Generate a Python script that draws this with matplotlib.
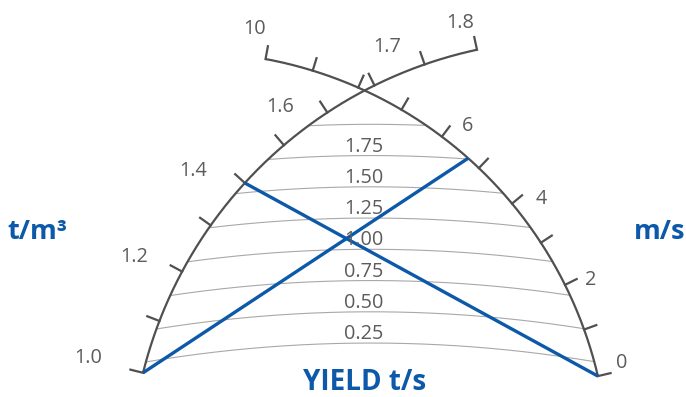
import numpy as np
import matplotlib
matplotlib.use("Agg")
import matplotlib.pyplot as plt

# ---------------- data ----------------
density_ticks = [1.0, 1.1, 1.2, 1.3, 1.4, 1.5, 1.6, 1.65, 1.7, 1.8]
density_labels = ["1.0", "", "1.2", "", "1.4", "", "1.6", "", "1.7", "1.8"]
velocity_ticks = [0, 1, 2, 3, 4, 5, 6, 7, 8, 9, 10]
velocity_labels = ["0", "", "2", "", "4", "", "6", "", "", "", "10"]
yield_levels = [0.25, 0.50, 0.75, 1.00, 1.25, 1.50, 1.75, 2.00]
yield_labels = ["0.25", "0.50", "0.75", "1.00", "1.25", "1.50", "1.75", ""]
# reading lines: (density, velocity)
reading_density = [1.0, 1.4]
reading_velocity = [5.3, 0.0]
density_title = "t/m³"
velocity_title = "m/s"
yield_title = "YIELD t/s"

# ---------------- layout (pixel space) ----------------
W, H = 686, 397
L_C, L_R = (569.0, 479.0), 439.0          # density arc circle
L_A0, L_A1 = 166.0, 102.1                  # angles of first/last density tick
R_C, R_R = (189.0, 472.0), 420.0          # velocity arc circle
R_A0, R_STEP = 13.2, 6.63                  # angle at 0, degrees per unit
Y_BASE, Y_STEP, Y_RAD, Y_CX = 374.3, 125.0, 1350.0, 371.0
TICK_LEN = 13
left_label_off = {"1.0": (-55, -15), "1.2": (-48, -14.5), "1.4": (-52, -12),
                  "1.6": (-47, -5.5), "1.7": (-37, -17), "1.8": (-17, -27)}
right_label_off = {"0": (24, -13), "2": (25.5, -5), "4": (29.5, -5),
                   "6": (26, -10.5), "10": (-10.5, -30)}

ARC_COL = "#505050"
TXT_COL = "#5c5c5c"
GRID_COL = "#a8a8a8"
BLUE = "#0b59a8"
FONT = "Open Sans"
LBL_FS = 14.3

def dens_angle(v):
    idx = np.interp(v, density_ticks, np.arange(len(density_ticks)))
    return L_A0 + (L_A1 - L_A0) * idx / (len(density_ticks) - 1)

def vel_angle(v):
    return R_A0 + R_STEP * v

def pt(center, r, ang):
    a = np.radians(ang)
    return center[0] + r * np.cos(a), center[1] - r * np.sin(a)

def normal(ang):
    a = np.radians(ang)
    return np.cos(a), -np.sin(a)

fig = plt.figure(figsize=(W / 100, H / 100), dpi=100)
ax = fig.add_axes([0, 0, 1, 1])
ax.set_xlim(0, W)
ax.set_ylim(H, 0)
ax.axis("off")

# yield curves, clipped to the lens between both arcs
xs = np.linspace(100, 650, 3000)
for yv, lab in zip(yield_levels, yield_labels):
    peak = Y_BASE - Y_STEP * yv
    cy = peak + Y_RAD
    ys = cy - np.sqrt(Y_RAD ** 2 - (xs - Y_CX) ** 2)
    inside = ((xs - L_C[0]) ** 2 + (ys - L_C[1]) ** 2 < L_R ** 2) & \
             ((xs - R_C[0]) ** 2 + (ys - R_C[1]) ** 2 < R_R ** 2)
    ax.plot(xs[inside], ys[inside], color=GRID_COL, lw=0.8, zorder=1)
    if lab:
        ax.text(364, peak - 4, lab, ha="center", va="baseline", fontsize=LBL_FS,
                color=TXT_COL, family=FONT, zorder=5)

# density arc
angs = np.linspace(L_A0, L_A1, 300)
px, py = pt(L_C, L_R, angs)
ax.plot(px, py, color=ARC_COL, lw=1.6, zorder=2, solid_capstyle="butt")
for v, lab in zip(density_ticks, density_labels):
    a = dens_angle(v)
    x0, y0 = pt(L_C, L_R, a)
    nx, ny = normal(a)
    ax.plot([x0, x0 + nx * TICK_LEN], [y0, y0 + ny * TICK_LEN],
            color=ARC_COL, lw=1.6, zorder=2)
    if lab:
        dx, dy = left_label_off[lab]
        ax.text(x0 + dx, y0 + dy, lab, ha="center", va="center", fontsize=LBL_FS,
                color=TXT_COL, family=FONT, zorder=5)

# velocity arc
angs = np.linspace(vel_angle(velocity_ticks[0]), vel_angle(velocity_ticks[-1]), 300)
px, py = pt(R_C, R_R, angs)
ax.plot(px, py, color=ARC_COL, lw=1.6, zorder=2, solid_capstyle="butt")
for v, lab in zip(velocity_ticks, velocity_labels):
    a = vel_angle(v)
    x0, y0 = pt(R_C, R_R, a)
    nx, ny = normal(a)
    ax.plot([x0, x0 + nx * TICK_LEN], [y0, y0 + ny * TICK_LEN],
            color=ARC_COL, lw=1.6, zorder=2)
    if lab:
        dx, dy = right_label_off[lab]
        ax.text(x0 + dx, y0 + dy, lab, ha="center", va="center", fontsize=LBL_FS,
                color=TXT_COL, family=FONT, zorder=5)

# reading lines
for d, v in zip(reading_density, reading_velocity):
    x0, y0 = pt(L_C, L_R, dens_angle(d))
    x1, y1 = pt(R_C, R_R, vel_angle(v))
    ax.plot([x0, x1], [y0, y1], color=BLUE, lw=2.4, zorder=3,
            solid_capstyle="butt")

# titles
ax.text(37, 232, density_title, ha="center", va="center", fontsize=19.5,
        fontweight="bold", color=BLUE, family=FONT)
ax.text(660, 232, velocity_title, ha="center", va="center", fontsize=19.5,
        fontweight="bold", color=BLUE, family=FONT)
ax.text(365, 382, yield_title, ha="center", va="center", fontsize=20,
        fontweight="bold", color=BLUE, family=FONT)

fig.savefig("out.png", dpi=100)
